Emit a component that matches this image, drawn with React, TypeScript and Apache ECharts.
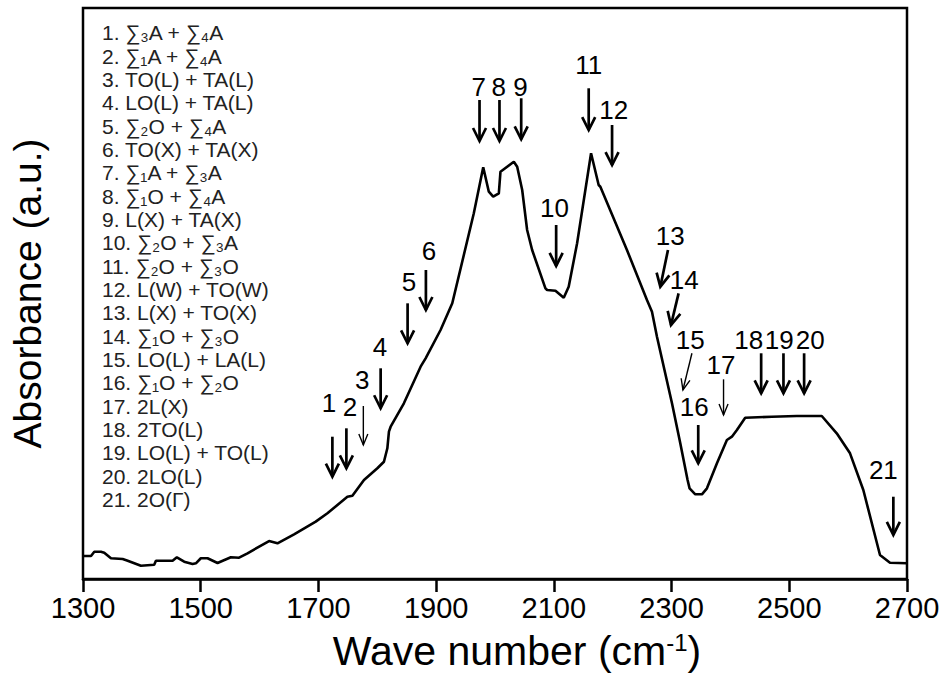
import React, { useEffect, useRef } from "react";
import * as echarts from "echarts";

// ---- Data ----
const waveNumber = [1300, 1313.6, 1319.2, 1330.5, 1336.1, 1347.5, 1367.4, 1375.9, 1398.4, 1421.0, 1423.9, 1452.2, 1459.5, 1471.9, 1486.2, 1491.8, 1500.2, 1511.6, 1528.6, 1551.2, 1565.2, 1579.5, 1616.1, 1630.4, 1658.6, 1695.4, 1715.3, 1749.2, 1757.7, 1777.4, 1800.1, 1811.3, 1817.1, 1819.8, 1822.7, 1845.2, 1873.6, 1882.1, 1907.5, 1927.4, 1964.0, 1980.0, 1989.5, 1996.9, 2006.5, 2009.3, 2032.0, 2037.7, 2046.2, 2054.6, 2063.1, 2085.7, 2088.6, 2102.7, 2116.8, 2125.2, 2139.5, 2163.2, 2176.1, 2179.0, 2224.2, 2258.2, 2266.7, 2275.2, 2300.7, 2314.8, 2327.2, 2330.6, 2340.3, 2351.6, 2360.1, 2377.1, 2394.0, 2402.5, 2411.0, 2425.1, 2470.4, 2512.8, 2555.2, 2580.6, 2603.2, 2625.8, 2654.1, 2671.1, 2700];
const absorbance = [4.03, 4.03, 4.78, 4.78, 4.61, 3.63, 3.50, 3.20, 2.33, 2.50, 3.20, 3.20, 3.80, 3.03, 2.63, 2.75, 3.63, 3.63, 2.80, 3.80, 3.73, 4.50, 6.65, 6.25, 7.83, 10.04, 11.51, 14.41, 14.59, 17.34, 19.39, 20.54, 22.89, 25.80, 26.67, 30.77, 37.18, 38.65, 43.61, 48.28, 64.05, 72.10, 67.83, 66.95, 67.55, 71.33, 73.08, 72.21, 68.13, 61.12, 57.62, 50.91, 50.61, 50.49, 49.26, 51.19, 58.79, 74.55, 69.00, 68.70, 57.62, 48.86, 46.81, 42.43, 30.77, 23.77, 17.34, 15.88, 14.83, 14.83, 15.88, 20.26, 24.34, 24.92, 26.09, 28.25, 28.42, 28.55, 28.55, 25.52, 22.01, 15.59, 4.20, 2.85, 2.75];

// Annotation arrows (data space: wave number, absorbance level)
const arrowIds = [1, 2, 3, 4, 5, 6, 7, 8, 9, 10, 11, 12, 13, 14, 15, 16, 17, 18, 19, 20, 21];
const arrowTailX = [1723.7, 1747.5, 1776.3, 1805.7, 1851.5, 1882.6, 1973.7, 2007.6, 2044.5, 2103.9, 2159.2, 2198.9, 2293.9, 2311.9, 2334.6, 2345.3, 2388.3, 2452.2, 2490.1, 2525.2, 2676.8];
const arrowTailY = [24.92, 26.39, 30.30, 36.90, 48.28, 54.12, 83.89, 83.89, 84.19, 62.0, 85.94, 79.51, 57.62, 50.03, 39.53, 26.97, 34.97, 39.53, 39.53, 39.53, 14.41];
const arrowHeadX = [1723.7, 1747.5, 1776.3, 1805.7, 1851.5, 1882.6, 1973.7, 2007.6, 2044.5, 2103.9, 2159.2, 2198.9, 2280.9, 2299.0, 2319.3, 2345.3, 2388.3, 2452.2, 2490.1, 2525.2, 2676.8];
const arrowHeadY = [17.92, 19.39, 23.47, 29.90, 41.28, 47.11, 76.71, 76.71, 77.01, 54.82, 78.63, 72.50, 51.19, 44.48, 33.10, 20.26, 28.72, 32.52, 32.52, 32.52, 7.71];
const labelX = [1718.0, 1753.6, 1774.6, 1804.5, 1853.7, 1887.7, 1972.5, 2006.4, 2043.3, 2101.0, 2159.2, 2201.6, 2297.8, 2321.6, 2331.8, 2338.5, 2383.8, 2431.2, 2482.8, 2535.4, 2659.8];
const labelY = [30.77, 30.18, 34.85, 40.68, 52.07, 57.50, 86.22, 86.22, 86.22, 64.92, 90.02, 82.14, 60.07, 52.36, 41.86, 30.18, 37.48, 41.86, 41.86, 41.86, 19.09];

const assignments = [
  "1. ∑₃A + ∑₄A",
  "2. ∑₁A + ∑₄A",
  "3. TO(L) + TA(L)",
  "4. LO(L) + TA(L)",
  "5. ∑₂O + ∑₄A",
  "6. TO(X) + TA(X)",
  "7. ∑₁A + ∑₃A",
  "8. ∑₁O + ∑₄A",
  "9. L(X) + TA(X)",
  "10. ∑₂O + ∑₃A",
  "11. ∑₂O + ∑₃O",
  "12. L(W) + TO(W)",
  "13. L(X) + TO(X)",
  "14. ∑₁O + ∑₃O",
  "15. LO(L) + LA(L)",
  "16. ∑₁O + ∑₂O",
  "17. 2L(X)",
  "18. 2TO(L)",
  "19. LO(L) + TO(L)",
  "20. 2LO(L)",
  "21. 2O(Γ)",
];

const xTicks = { min: 1300, max: 2700, interval: 200 };

const THIN_ARROWS = [3, 15, 17];
const FONT = '"Liberation Sans", Arial, Helvetica, sans-serif';

export default function App() {
  const ref = useRef<HTMLDivElement>(null);

  useEffect(() => {
    if (!ref.current) return;
    const chart = echarts.init(ref.current, undefined, { renderer: "svg" });

    const curve = waveNumber.map((x, i) => [x, absorbance[i]]);
    const arrows = arrowIds.map((id, i) => [
      arrowTailX[i], arrowTailY[i], arrowHeadX[i], arrowHeadY[i], labelX[i], labelY[i], id,
    ]);

    const option: any = {
      animation: false,
      backgroundColor: "#fff",
      grid: {
        left: 82,
        right: 37,
        top: 8,
        bottom: 101,
        show: true,
        borderColor: "#000",
        borderWidth: 2.5,
        backgroundColor: "transparent",
      },
      xAxis: {
        type: "value",
        min: xTicks.min,
        max: xTicks.max,
        interval: xTicks.interval,
        name: "Wave number (cm{sup|-1})",
        nameLocation: "middle",
        nameGap: 51,
        nameTextStyle: {
          fontFamily: FONT,
          fontSize: 41,
          color: "#000",
          padding: [0, 0, 0, 44],
          rich: {
            sup: { fontFamily: FONT, fontSize: 24, color: "#000", verticalAlign: "top" },
          },
        },
        axisLine: { show: true, lineStyle: { color: "#000", width: 2.5 } },
        axisTick: { show: true, inside: false, length: 13, lineStyle: { color: "#000", width: 2.5 } },
        axisLabel: {
          fontFamily: FONT,
          fontSize: 29,
          color: "#000",
          margin: 14,
          formatter: (v: number) => String(v),
        },
        splitLine: { show: false },
      },
      yAxis: {
        type: "value",
        min: 0,
        max: 100,
        name: "Absorbance (a.u.)",
        nameLocation: "middle",
        nameGap: 36,
        nameTextStyle: { fontFamily: FONT, fontSize: 39, color: "#000", padding: [0, 0, 0, 0] },
        axisLine: { show: false },
        axisTick: { show: false },
        axisLabel: { show: false },
        splitLine: { show: false },
      },
      graphic: [
        {
          type: "text",
          left: 102,
          top: 21,
          silent: true,
          style: {
            text: assignments.join("\n"),
            font: `21px ${FONT}`,
            lineHeight: 23.35,
            fill: "#222",
          },
        },
      ],
      series: [
        {
          type: "line",
          data: curve,
          symbol: "none",
          smooth: false,
          lineStyle: { color: "#000", width: 2.6 },
          z: 3,
        },
        {
          type: "custom",
          data: arrows,
          clip: false,
          z: 4,
          renderItem: (params: any, api: any) => {
            const t = api.coord([api.value(0), api.value(1)]);
            const h = api.coord([api.value(2), api.value(3)]);
            const l = api.coord([api.value(4), api.value(5)]);
            const id = api.value(6);
            const thin = THIN_ARROWS.indexOf(id) >= 0;
            const w = thin ? 1.4 : 2.7;
            const hl = thin ? 11 : 13;
            const hw = thin ? 4.5 : 6.5;
            const ang = Math.atan2(h[1] - t[1], h[0] - t[0]);
            const bx = h[0] - hl * Math.cos(ang);
            const by = h[1] - hl * Math.sin(ang);
            const nx = -Math.sin(ang);
            const ny = Math.cos(ang);
            return {
              type: "group",
              children: [
                {
                  type: "line",
                  shape: { x1: t[0], y1: t[1], x2: h[0], y2: h[1] },
                  style: { stroke: "#000", lineWidth: w },
                },
                {
                  type: "polyline",
                  shape: { points: [[bx + hw * nx, by + hw * ny], [h[0], h[1]], [bx - hw * nx, by - hw * ny]] },
                  style: { stroke: "#000", lineWidth: w, fill: null, lineJoin: "miter" },
                },
                {
                  type: "text",
                  x: l[0],
                  y: l[1],
                  style: {
                    text: String(id),
                    font: `26px ${FONT}`,
                    fill: "#000",
                    align: "center",
                    verticalAlign: "middle",
                  },
                },
              ],
            };
          },
        },
      ],
    };

    chart.setOption(option);
    return () => chart.dispose();
  }, []);

  return (
    <div
      ref={ref}
      style={{ position: "absolute", left: 0, top: 0, width: 944, height: 680 }}
    />
  );
}
